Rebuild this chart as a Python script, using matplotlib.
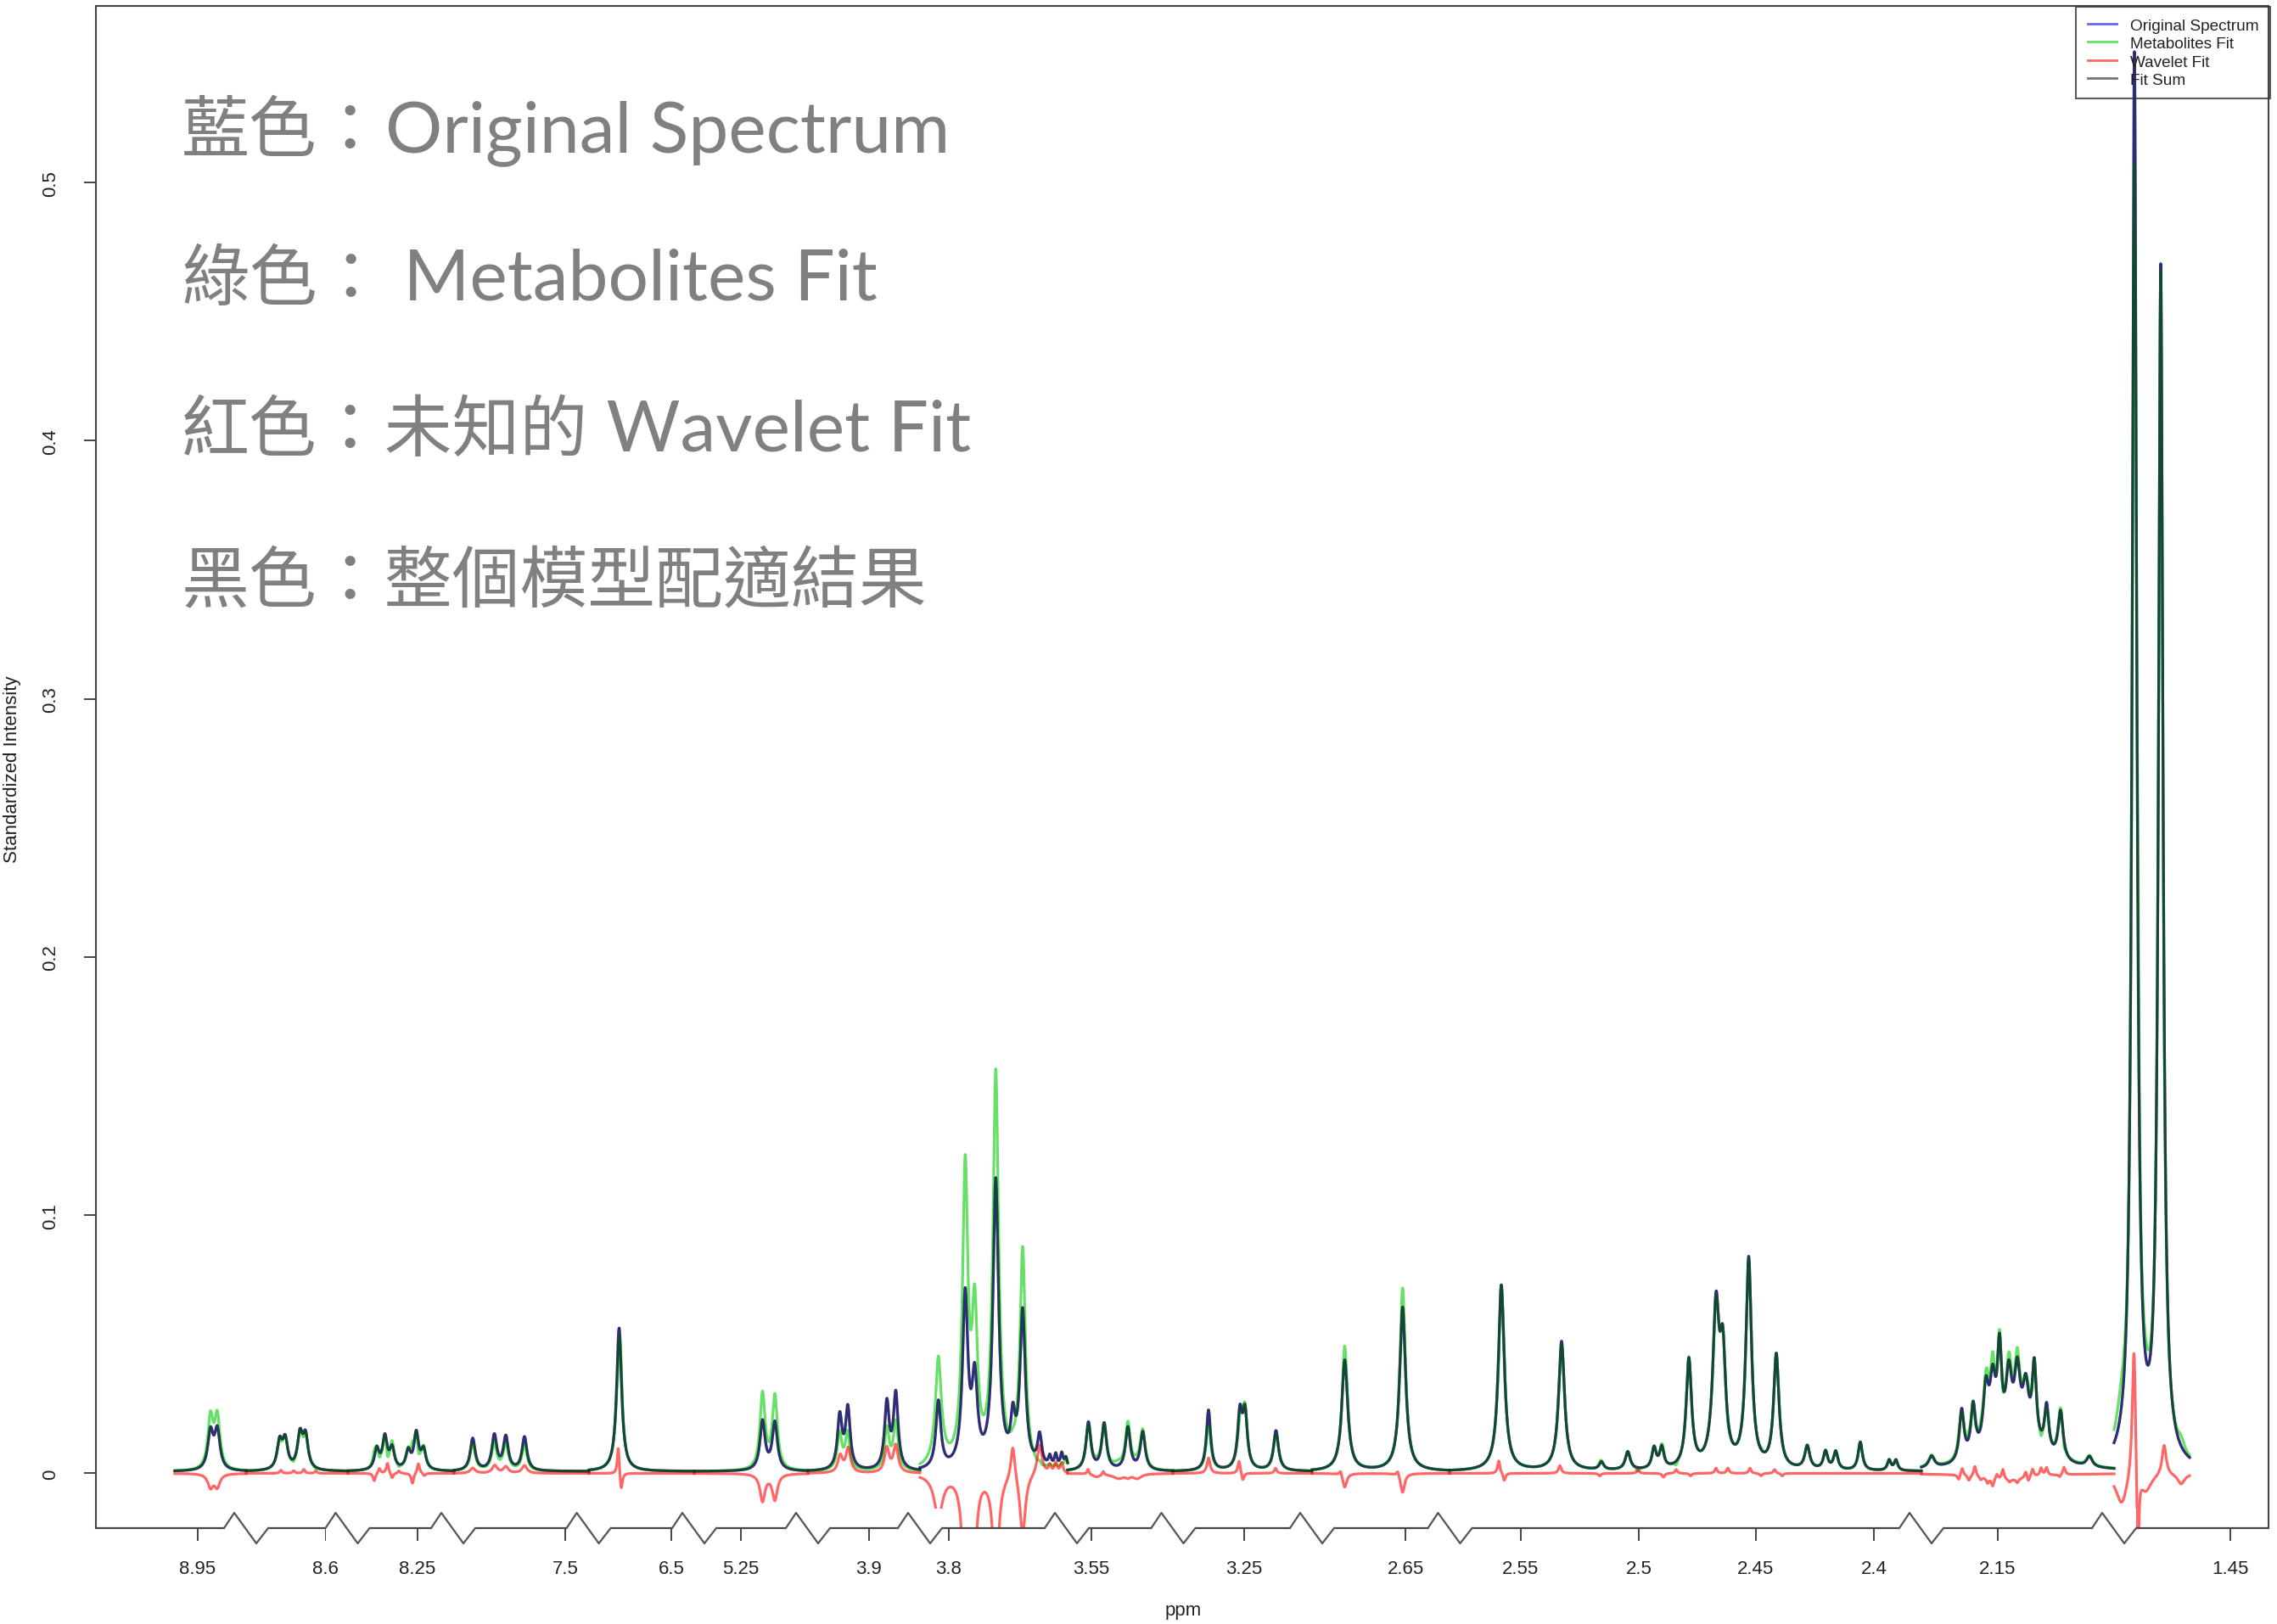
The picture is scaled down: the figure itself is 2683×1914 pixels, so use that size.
import numpy as np
import matplotlib.pyplot as plt
from matplotlib.lines import Line2D
from matplotlib.patches import Rectangle

plt.rcParams['font.family'] = ['Liberation Sans', 'DejaVu Sans']

# --- spectral windows (bin index), plotted side by side on a broken ppm axis ---
segment_edges = [206, 290, 410, 535, 694, 818, 952, 1084, 1258, 1382, 1546, 1708, 2264, 2491, 2580]
break_starts = [264, 383.5, 508, 667.6, 792, 926, 1058, 1231, 1356.5, 1520, 1682.5, 2238, 2465]

tick_pos = [232.5, 383.5, 492, 666, 791, 872.6, 1023.5, 1118, 1286, 1465.5,
            1656, 1791.5, 1931, 2069, 2208, 2354, 2628]
tick_labels = ['8.95', '8.6', '8.25', '7.5', '6.5', '5.25', '3.9', '3.8', '3.55', '3.25',
               '2.65', '2.55', '2.5', '2.45', '2.4', '2.15', '1.45']

y_ticks = [0, 0.1, 0.2, 0.3, 0.4, 0.5]
y_tick_labels = ['0', '0.1', '0.2', '0.3', '0.4', '0.5']

# --- original spectrum: Lorentzian lines (centre bin, height, half width) ---
orig_pos = [248, 256,
            329.5, 336, 353.5, 360,
            444, 453.5, 462, 481, 490.5, 499,
            557, 582.5, 596, 618,
            729.5,
            898.5, 913,
            989.5, 999, 1045, 1055.5,
            1105.7, 1137.3, 1148.5, 1173.3, 1193.5, 1205, 1225, 1237, 1244, 1251, 1256,
            1282.5, 1301, 1329, 1346.5,
            1424, 1461, 1467, 1503.5,
            1584.5, 1652.7,
            1769, 1840, 1887, 1918, 1949, 1958, 1990, 2022, 2030, 2060.5, 2093,
            2129.5, 2151, 2163, 2192, 2226, 2234,
            2276, 2311.5, 2325, 2340, 2348, 2356, 2367, 2377, 2378, 2387, 2397,
            2411.5, 2428, 2462,
            2515, 2546]
orig_height = [0.0145, 0.015,
               0.0105, 0.011, 0.013, 0.0125,
               0.008, 0.0125, 0.008, 0.007, 0.014, 0.0075,
               0.0125, 0.0135, 0.0128, 0.013,
               0.0555,
               0.019, 0.0185,
               0.0205, 0.0235, 0.0255, 0.029,
               0.026, 0.066, 0.032, 0.111, 0.016, 0.060, 0.012, 0.004, 0.005, 0.0055, 0.004,
               0.0185, 0.018, 0.0165, 0.0148,
               0.0235, 0.021, 0.021, 0.0155,
               0.043, 0.0635,
               0.072, 0.050, 0.003, 0.007, 0.008, 0.008, 0.042, 0.060, 0.040, 0.081, 0.044,
               0.009, 0.007, 0.007, 0.011, 0.004, 0.004,
               0.0045, 0.020, 0.020, 0.024, 0.024, 0.035, 0.024, 0.024, 0.012, 0.019, 0.030,
               0.018, 0.019, 0.004,
               0.545, 0.462]
orig_width = [3.8, 3.8,
              3.6, 3.6, 3.6, 3.6,
              3.3, 3.3, 3.3, 3.3, 3.3, 3.3,
              3.5, 3.5, 3.5, 3.5,
              3.5,
              3.6, 3.6,
              3.3, 3.3, 3.3, 3.3,
              3.5, 3.8, 3.8, 4, 3, 3.8, 3, 2, 2, 2, 2,
              3.4, 3.4, 3.4, 3.4,
              3.0, 3.2, 3.2, 3.5,
              4.2, 4.2,
              4.2, 4.2, 3, 3.5, 3, 3, 3.8, 4.5, 4, 4, 3.8,
              3.5, 3, 3, 3, 2.5, 2.5,
              4, 3.3, 3.3, 4, 4, 3, 4, 4, 30, 4, 3,
              3, 3.5, 4,
              3.2, 3.2]
orig_baseline = 0.0008

# --- wavelet part of the fit (signed lines) ---
wave_pos = [248, 256,
            331, 346, 358, 372,
            441, 447, 456.5, 462, 470, 486, 493, 500,
            557, 583, 596, 618,
            728.5, 732,
            898.5, 913,
            990, 999.5, 1045, 1055.5,
            1105.7, 1137.3, 1148.5, 1173.3, 1193.5, 1205, 1225, 1237, 1244, 1251,
            1282, 1292, 1300, 1318, 1329, 1340,
            1424, 1460, 1464.5, 1503,
            1579.5, 1584.5, 1647, 1652.7,
            1766, 1772.5, 1838, 1885, 1930, 1960, 1975, 1992, 2022, 2036, 2062, 2075, 2091, 2100,
            2308, 2312, 2320, 2327, 2334, 2342, 2348, 2353, 2360, 2365, 2368, 2377, 2387, 2390,
            2395, 2405, 2411.5, 2427, 2432,
            2500, 2514.5, 2519, 2528, 2550, 2570]
wave_height = [-0.0052, -0.005,
               0.0012, 0.001, 0.0015, 0.0008,
               -0.003, 0.002, 0.004, -0.002, 0.001, -0.004, 0.004, -0.001,
               0.002, 0.003, 0.0025, 0.003,
               0.011, -0.007,
               -0.0105, -0.010,
               0.0065, 0.0095, 0.0095, 0.0105,
               -0.016, -0.048, -0.024, -0.041, 0.014, -0.024, 0.012, 0.003, 0.004, 0.004,
               0.002, -0.0012, 0.0015, -0.0018, -0.001, -0.0018,
               0.006, 0.005, -0.003, 0.002,
               0.002, -0.0055, 0.002, -0.0075,
               0.005, -0.003, 0.003, -0.001, 0.0015, -0.0015, 0.0015, -0.001, 0.002, 0.002,
               0.002, -0.001, 0.0015, -0.001,
               -0.002, 0.003, -0.002, 0.004, -0.0012, -0.002, -0.003, 0.002, 0.004, -0.0025,
               -0.001, -0.0015, 0.0025, -0.002, 0.003, 0.003, 0.003, -0.001, 0.003,
               -0.012, 0.055, -0.04, -0.007, 0.012, -0.004]
wave_width = [3.8, 3.8,
              1.7, 1.7, 1.7, 1.7,
              1.7, 1.7, 1.7, 1.7, 1.7, 1.7, 1.7, 1.7,
              3.5, 3.5, 3.5, 3.5,
              1.4, 1.7,
              3.6, 3.6,
              3.3, 3.3, 3.3, 3.3,
              6, 3.8, 3.8, 4, 3, 3.8, 3.5, 2, 2, 2,
              1.4, 6, 1.4, 8, 3, 6,
              2.2, 1.7, 1.7, 1.7,
              1.7, 2.8, 1.7, 2.8,
              1.7, 1.7, 2, 1.7, 1.7, 1.7, 1.7, 1.7, 1.7, 1.7, 1.7, 1.7, 1.7, 1.7,
              1.7, 1.7, 1.7, 1.7, 1.7, 1.7, 1.7, 1.7, 1.7, 35, 1.7, 1.7, 1.7, 1.4,
              1.7, 1.7, 1.7, 1.7, 1.7,
              8, 2.5, 1.5, 8, 3, 5]

# overlay notes: ideographic part and the latin part that follows it
note_cjk = ['藍色：', '綠色：', '紅色：未知的', '黑色：整個模型配適結果']
note_latin = ['Original Spectrum', ' Metabolites Fit', ' Wavelet Fit', '']
note_baselines = [179, 353.5, 532, 710]   # pixel rows from the top
note_left = 214


def lorentz_sum(x, pos, height, width, lo, hi):
    out = np.zeros_like(x)
    for p, h, w in zip(pos, height, width):
        if lo <= p < hi:
            out += h * w ** 2 / ((x - p) ** 2 + w ** 2)
    return out


W, H = 2683, 1915
fig = plt.figure(figsize=(W / 100, H / 100), dpi=100)
ax = fig.add_axes([113 / W, 1 - 1802 / H, (2673 - 113) / W, (1802 - 8) / H])

c_orig = (0, 0, 1, 0.6)
c_met = (0, 0.8, 0, 0.6)
c_wav = (1, 0, 0, 0.6)
c_sum = (0, 0, 0, 0.55)
lw = 2.3

for lo, hi in zip(segment_edges[:-1], segment_edges[1:]):
    x = np.linspace(lo, hi, int((hi - lo) * 4) + 1)
    orig = orig_baseline + lorentz_sum(x, orig_pos, orig_height, orig_width, lo, hi)
    wav = lorentz_sum(x, wave_pos, wave_height, wave_width, lo, hi)
    met = orig - wav
    ax.plot(x, orig, color=c_orig, lw=lw)
    ax.plot(x, met, color=c_met, lw=lw)
    ax.plot(x, wav, color=c_wav, lw=lw)
    ax.plot(x, met + wav, color=c_sum, lw=lw)

ax.set_xlim(113, 2673)
ax.set_ylim(-0.0212, 0.5684)

for side in ['left', 'top', 'right']:
    ax.spines[side].set_color('#444444')
    ax.spines[side].set_linewidth(1.5)
ax.spines['bottom'].set_visible(False)

ax.set_xticks(tick_pos, tick_labels)
ax.set_yticks(y_ticks, y_tick_labels)
ax.tick_params(axis='x', length=10.8, width=1.4, pad=15.5, labelsize=16,
               color='#444444', labelcolor='#222222')
ax.tick_params(axis='y', length=10, width=1.4, pad=21, labelsize=16, labelrotation=90,
               color='#444444', labelcolor='#222222')
for lab in ax.get_yticklabels():
    lab.set_va('center')

# bottom axis line with zigzag breaks between the spectral windows
trans = ax.get_xaxis_transform()
zig_w = 52
zig_h = 18 / 1794
starts = [113] + [b + zig_w for b in break_starts]
ends = break_starts + [2673]
for a, b in zip(starts, ends):
    ax.plot([a, b], [0, 0], color='#444444', lw=1.6, transform=trans, clip_on=False,
            solid_capstyle='butt', zorder=4)
for b in break_starts:
    ax.add_patch(Rectangle((b, -0.013), zig_w, 0.026, transform=trans, facecolor='white',
                           edgecolor='none', clip_on=False, zorder=3))
    ax.plot([b, b + 12, b + 38, b + zig_w], [0, zig_h, -zig_h, 0], color='#555555',
            lw=1.6, transform=trans, clip_on=False, zorder=4)

fig.text(1394 / W, 1 - 1899 / H, 'ppm', ha='center', va='center', fontsize=16, color='#222222')
fig.text(15 / W, 1 - 907 / H, 'Standardized Intensity', rotation=90, ha='center',
         va='center', fontsize=16, color='#222222')

handles = [Line2D([], [], color=c, lw=2) for c in (c_orig, c_met, c_wav, c_sum)]
leg = ax.legend(handles, ['Original Spectrum', 'Metabolites Fit', 'Wavelet Fit', 'Fit Sum'],
                loc='upper right', bbox_to_anchor=(1.0008, 0.9995), borderaxespad=0,
                fontsize=13.7, handlelength=1.8, handletextpad=0.85, labelspacing=0.22,
                borderpad=0.7, fancybox=False, labelcolor='#222222')
frame = leg.get_frame()
frame.set_facecolor('none')
frame.set_edgecolor('#333333')
frame.set_linewidth(1.5)

# overlay notes: ideographs are one em wide, so the latin run starts right after them
cjk_size = 57.5
latin_size = 60.5
em_px = cjk_size * 100 / 72
for cjk, latin, yb in zip(note_cjk, note_latin, note_baselines):
    fig.text(note_left / W, 1 - yb / H, cjk, ha='left', va='baseline', fontsize=cjk_size,
             color='#7f8080', family=['Noto Sans CJK TC', 'DejaVu Sans'])
    if latin:
        x_latin = note_left + len(cjk) * em_px
        fig.text(x_latin / W, 1 - yb / H, latin, ha='left', va='baseline',
                 fontsize=latin_size, color='#7f8080', family=['Lato', 'DejaVu Sans'])

fig.savefig('out.png', dpi=100)
